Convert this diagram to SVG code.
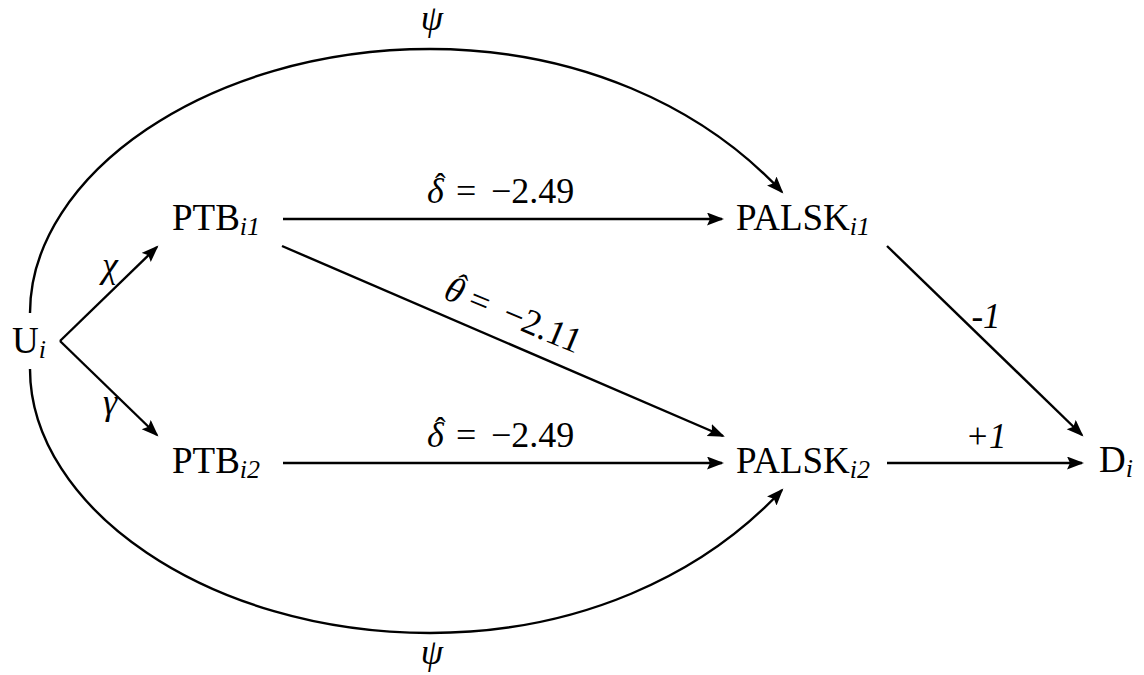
<svg xmlns="http://www.w3.org/2000/svg" width="1144" height="675" viewBox="0 0 1144 675">
<style>
.c{fill:none;stroke:#000;stroke-width:2.4}
</style>
<defs>
<marker id="ah" markerUnits="userSpaceOnUse" markerWidth="18" markerHeight="14" refX="15" refY="6.5" orient="auto">
<path d="M0,0 L17,6.5 L0,13 L3,6.5 z" fill="#000"/>
</marker>
</defs>
<rect width="1144" height="675" fill="#fff"/>
<g id="connectors">
<path class="c" d="M60,341 L157,247" marker-end="url(#ah)"/>
<path class="c" d="M60,341 L157,435" marker-end="url(#ah)"/>
<path class="c" d="M283,219 L722,219" marker-end="url(#ah)"/>
<path class="c" d="M283,463 L722,463" marker-end="url(#ah)"/>
<path class="c" d="M282,246 L723,436" marker-end="url(#ah)"/>
<path class="c" d="M887,246 L1082,435" marker-end="url(#ah)"/>
<path class="c" d="M887,463 L1082,463" marker-end="url(#ah)"/>
<path class="c" d="M30,313 C30,175 208,49 430,49 C577,49 702,106 782,192" marker-end="url(#ah)"/>
<path class="c" d="M30,369 C30,507 208,633 430,633 C577,633 702,576 782,490" marker-end="url(#ah)"/>
</g>
<g id="labels" font-family="Liberation Serif, serif" fill="#000">
<text x="432" y="30" font-size="36" font-style="italic" text-anchor="middle">ψ</text>
<text x="432" y="664" font-size="36" font-style="italic" text-anchor="middle">ψ</text>
<text x="110" y="277" font-size="36" font-style="italic" text-anchor="middle">χ</text>
<text x="110" y="414" font-size="36" font-style="italic" text-anchor="middle">γ</text>
<text x="427" y="203" font-size="36"><tspan font-style="italic">δ</tspan><tspan x="435" y="195" font-size="32">ˆ</tspan><tspan x="456" y="203">=</tspan><tspan x="491">−2.49</tspan></text>
<text x="427" y="447" font-size="36"><tspan font-style="italic">δ</tspan><tspan x="435" y="439" font-size="32">ˆ</tspan><tspan x="456" y="447">=</tspan><tspan x="491">−2.49</tspan></text>
<text transform="translate(442,298) rotate(22.6)" x="0" y="0" font-size="36"><tspan font-style="italic">θ</tspan><tspan x="7" y="-8" font-size="32">ˆ</tspan><tspan x="26" y="0">=</tspan><tspan x="63">−2.11</tspan></text>
<text x="986" y="328" font-size="35" font-style="italic" text-anchor="middle">-1</text>
<text x="986" y="448" font-size="35" font-style="italic" text-anchor="middle">+1</text>
</g>
<g font-family="Liberation Serif, serif" font-size="37" fill="#000">
<g id="U_i"><text x="12" y="353">U<tspan font-size="26" font-style="italic" dy="5">i</tspan></text></g>
<g id="PTB_i1"><text x="172" y="230">PTB<tspan font-size="26" font-style="italic" dy="5">i1</tspan></text></g>
<g id="PTB_i2"><text x="172" y="473">PTB<tspan font-size="26" font-style="italic" dy="5">i2</tspan></text></g>
<g id="PALSK_i1"><text x="736" y="230">PALSK<tspan font-size="26" font-style="italic" dy="5">i1</tspan></text></g>
<g id="PALSK_i2"><text x="736" y="473">PALSK<tspan font-size="26" font-style="italic" dy="5">i2</tspan></text></g>
<g id="D_i"><text x="1099" y="472">D<tspan font-size="26" font-style="italic" dy="5">i</tspan></text></g>
</g>
</svg>
